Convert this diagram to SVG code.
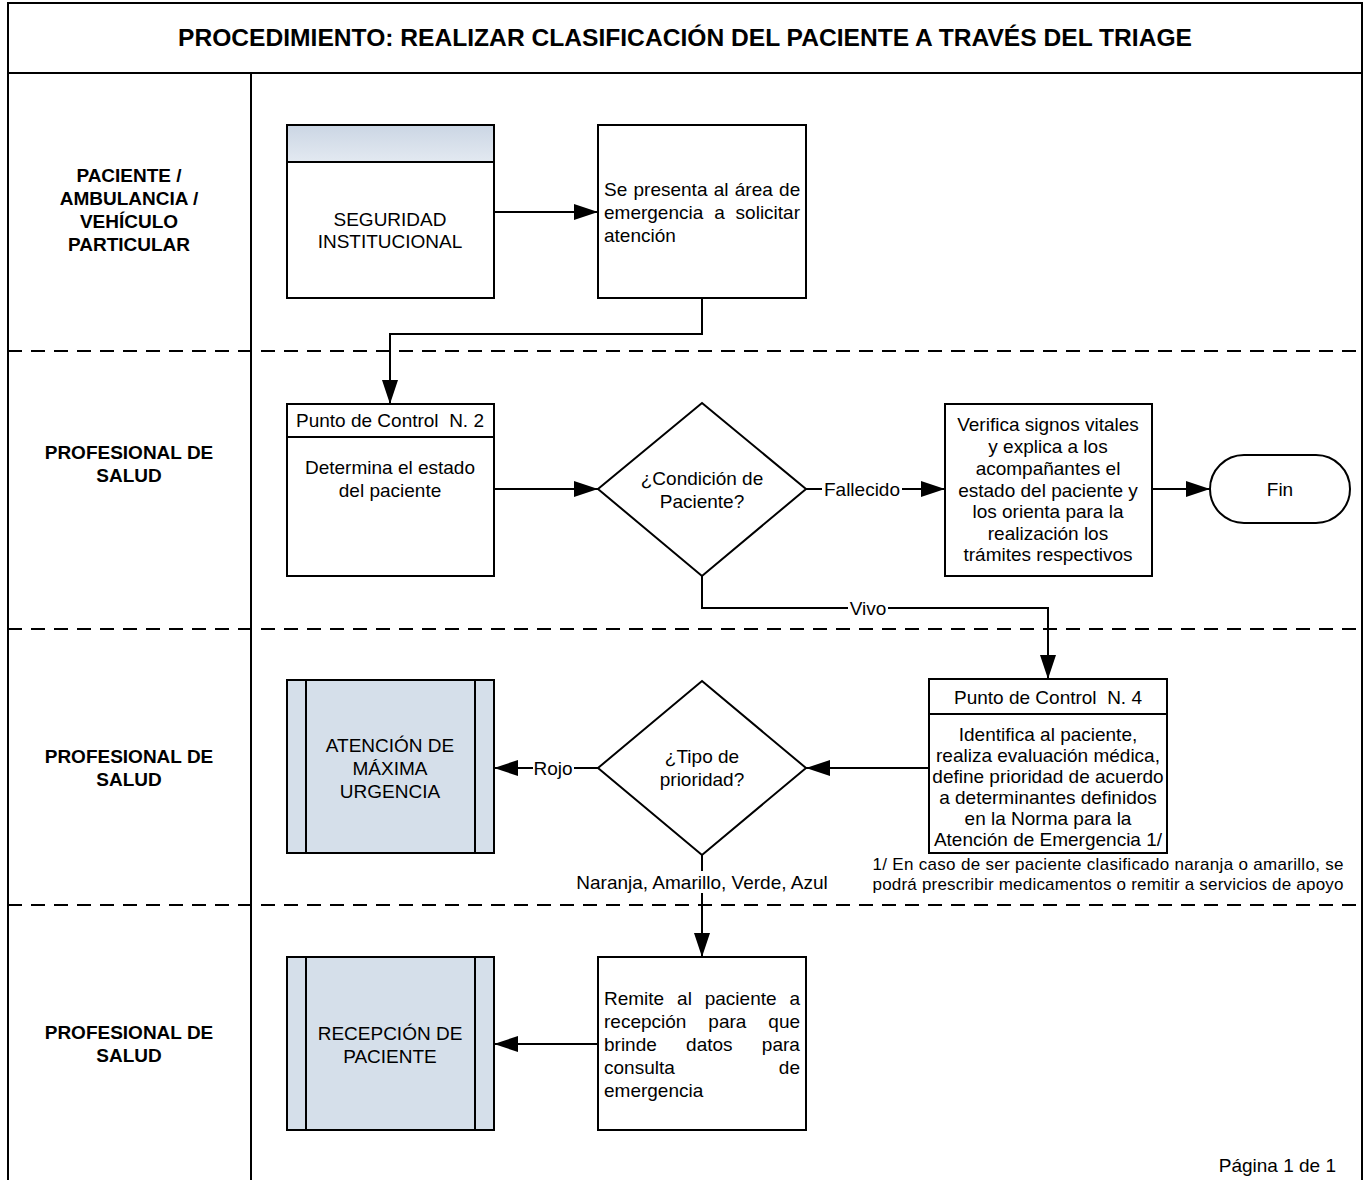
<svg xmlns="http://www.w3.org/2000/svg" width="1369" height="1180" viewBox="0 0 1369 1180">
<defs>
<linearGradient id="hdr" x1="0" y1="0" x2="0" y2="1">
<stop offset="0" stop-color="#cbd6e4"/>
<stop offset="1" stop-color="#e3e9f1"/>
</linearGradient>
<marker id="arr" markerUnits="userSpaceOnUse" markerWidth="24" markerHeight="16" refX="24" refY="8" orient="auto">
<path d="M0,0 L24,8 L0,16 z" fill="#000"/>
</marker>
</defs>
<style>
.box{fill:#fff;stroke:#000;stroke-width:2}
.sub{fill:#d5dfea;stroke:#000;stroke-width:2}
.ln{fill:none;stroke:#000;stroke-width:2}
.con{fill:none;stroke:#000;stroke-width:2}
.dash{fill:none;stroke:#000;stroke-width:2;stroke-dasharray:14 9}
.t{font-family:"Liberation Sans",Arial,sans-serif;font-size:19px;fill:#000}
.c{text-anchor:middle}
.e{text-anchor:end}
.lane{font-family:"Liberation Sans",Arial,sans-serif;font-size:19px;font-weight:bold;text-anchor:middle;fill:#000}
.title{font-family:"Liberation Sans",Arial,sans-serif;font-size:24px;font-weight:bold;text-anchor:middle;fill:#000}
.lbl{fill:#fff;stroke:none}
</style>
<rect width="1369" height="1180" fill="#fff"/>

<g id="frame">
<rect x="8" y="3" width="1354" height="1190" class="ln"/>
<line x1="8" y1="73" x2="1362" y2="73" class="ln"/>
<line x1="251" y1="73" x2="251" y2="1180" class="ln"/>
<line x1="8" y1="351" x2="1362" y2="351" class="dash"/>
<line x1="8" y1="629" x2="1362" y2="629" class="dash"/>
<line x1="8" y1="905" x2="1362" y2="905" class="dash"/>
<text x="685" y="46" class="title" textLength="1014" lengthAdjust="spacingAndGlyphs">PROCEDIMIENTO: REALIZAR CLASIFICACIÓN DEL PACIENTE A TRAVÉS DEL TRIAGE</text>
</g>

<g id="lanes">
<text class="lane"><tspan x="129" y="182">PACIENTE /</tspan><tspan x="129" y="205">AMBULANCIA /</tspan><tspan x="129" y="228">VEHÍCULO</tspan><tspan x="129" y="251">PARTICULAR</tspan></text>
<text class="lane"><tspan x="129" y="459">PROFESIONAL DE</tspan><tspan x="129" y="482">SALUD</tspan></text>
<text class="lane"><tspan x="129" y="763">PROFESIONAL DE</tspan><tspan x="129" y="786">SALUD</tspan></text>
<text class="lane"><tspan x="129" y="1039">PROFESIONAL DE</tspan><tspan x="129" y="1062">SALUD</tspan></text>
</g>

<g id="connectors">
<line x1="494" y1="212" x2="598" y2="212" class="con" marker-end="url(#arr)"/>
<polyline points="702,298 702,334 390,334 390,404" class="con" marker-end="url(#arr)"/>
<line x1="494" y1="489" x2="598" y2="489" class="con" marker-end="url(#arr)"/>
<line x1="806" y1="489" x2="945" y2="489" class="con" marker-end="url(#arr)"/>
<rect x="822" y="478" width="80" height="22" class="lbl"/>
<text x="862" y="496" class="t c">Fallecido</text>
<line x1="1152" y1="489" x2="1210" y2="489" class="con" marker-end="url(#arr)"/>
<polyline points="702,576 702,608 1048,608 1048,679" class="con" marker-end="url(#arr)"/>
<rect x="848" y="597" width="40" height="22" class="lbl"/>
<text x="868" y="615" class="t c">Vivo</text>
<line x1="929" y1="768" x2="806" y2="768" class="con" marker-end="url(#arr)"/>
<line x1="598" y1="768" x2="494" y2="768" class="con" marker-end="url(#arr)"/>
<rect x="533" y="757" width="41" height="22" class="lbl"/>
<text x="553" y="775" class="t c">Rojo</text>
<line x1="702" y1="855" x2="702" y2="957" class="con" marker-end="url(#arr)"/>
<rect x="566" y="871" width="274" height="22" class="lbl"/>
<text x="702" y="889" class="t c">Naranja, Amarillo, Verde, Azul</text>
<line x1="598" y1="1044" x2="494" y2="1044" class="con" marker-end="url(#arr)"/>
</g>

<g id="seguridad">
<rect x="287" y="125" width="207" height="173" class="box"/>
<rect x="287" y="125" width="207" height="37" fill="url(#hdr)" stroke="#000" stroke-width="2"/>
<text class="t c"><tspan x="390" y="226">SEGURIDAD</tspan><tspan x="390" y="248">INSTITUCIONAL</tspan></text>
</g>

<g id="se-presenta">
<rect x="598" y="125" width="208" height="173" class="box"/>
<text class="t"><tspan x="604" y="196" word-spacing="1">Se presenta al área de</tspan><tspan x="604" y="219" word-spacing="5.6">emergencia a solicitar</tspan><tspan x="604" y="242">atención</tspan></text>
</g>

<g id="pc2">
<rect x="287" y="404" width="207" height="172" class="box"/>
<line x1="287" y1="437" x2="494" y2="437" class="ln"/>
<text x="390" y="427" class="t c">Punto de Control&#160; N. 2</text>
<text class="t c"><tspan x="390" y="474">Determina el estado</tspan><tspan x="390" y="497">del paciente</tspan></text>
</g>

<g id="condicion">
<polygon points="702,403 806,489 702,576 598,489" class="box"/>
<text class="t c"><tspan x="702" y="485">¿Condición de</tspan><tspan x="702" y="508">Paciente?</tspan></text>
</g>

<g id="verifica">
<rect x="945" y="404" width="207" height="172" class="box"/>
<text class="t c"><tspan x="1048" y="431">Verifica signos vitales</tspan><tspan x="1048" y="453">y explica a los</tspan><tspan x="1048" y="475">acompañantes el</tspan><tspan x="1048" y="497">estado del paciente y</tspan><tspan x="1048" y="518">los orienta para la</tspan><tspan x="1048" y="540">realización los</tspan><tspan x="1048" y="561">trámites respectivos</tspan></text>
</g>

<g id="fin">
<rect x="1210" y="455" width="140" height="68" rx="34" ry="34" class="box"/>
<text x="1280" y="496" class="t c">Fin</text>
</g>

<g id="pc4">
<rect x="929" y="679" width="238" height="174" class="box"/>
<line x1="929" y1="714" x2="1167" y2="714" class="ln"/>
<text x="1048" y="704" class="t c">Punto de Control&#160; N. 4</text>
<text class="t c"><tspan x="1048" y="741">Identifica al paciente,</tspan><tspan x="1048" y="762">realiza evaluación médica,</tspan><tspan x="1048" y="783">define prioridad de acuerdo</tspan><tspan x="1048" y="804">a determinantes definidos</tspan><tspan x="1048" y="825">en la Norma para la</tspan><tspan x="1048" y="846">Atención de Emergencia 1/</tspan></text>
</g>

<g id="nota">
<text class="t c" style="font-size:17px"><tspan x="1108" y="870" textLength="471" lengthAdjust="spacing">1/ En caso de ser paciente clasificado naranja o amarillo, se</tspan><tspan x="1108" y="890" textLength="471" lengthAdjust="spacing">podrá prescribir medicamentos o remitir a servicios de apoyo</tspan></text>
</g>

<g id="tipo">
<polygon points="702,681 806,768 702,855 598,768" class="box"/>
<text class="t c"><tspan x="702" y="763">¿Tipo de</tspan><tspan x="702" y="786">prioridad?</tspan></text>
</g>

<g id="atencion">
<rect x="287" y="680" width="207" height="173" class="sub"/>
<line x1="306" y1="680" x2="306" y2="853" class="ln"/>
<line x1="475" y1="680" x2="475" y2="853" class="ln"/>
<text class="t c"><tspan x="390" y="752">ATENCIÓN DE</tspan><tspan x="390" y="775">MÁXIMA</tspan><tspan x="390" y="798">URGENCIA</tspan></text>
</g>

<g id="remite">
<rect x="598" y="957" width="208" height="173" class="box"/>
<text class="t"><tspan x="604" y="1005" word-spacing="7.6">Remite al paciente a</tspan><tspan x="604" y="1028" word-spacing="16.7">recepción para que</tspan><tspan x="604" y="1051" word-spacing="24">brinde datos para</tspan><tspan x="604" y="1074">consulta</tspan><tspan x="604" y="1097">emergencia</tspan></text>
<text x="800" y="1074" class="t e">de</text>
</g>

<g id="recepcion">
<rect x="287" y="957" width="207" height="173" class="sub"/>
<line x1="306" y1="957" x2="306" y2="1130" class="ln"/>
<line x1="475" y1="957" x2="475" y2="1130" class="ln"/>
<text class="t c"><tspan x="390" y="1040">RECEPCIÓN DE</tspan><tspan x="390" y="1063">PACIENTE</tspan></text>
</g>

<g id="pagina">
<text x="1336" y="1172" class="t e">Página 1 de 1</text>
</g>
</svg>
